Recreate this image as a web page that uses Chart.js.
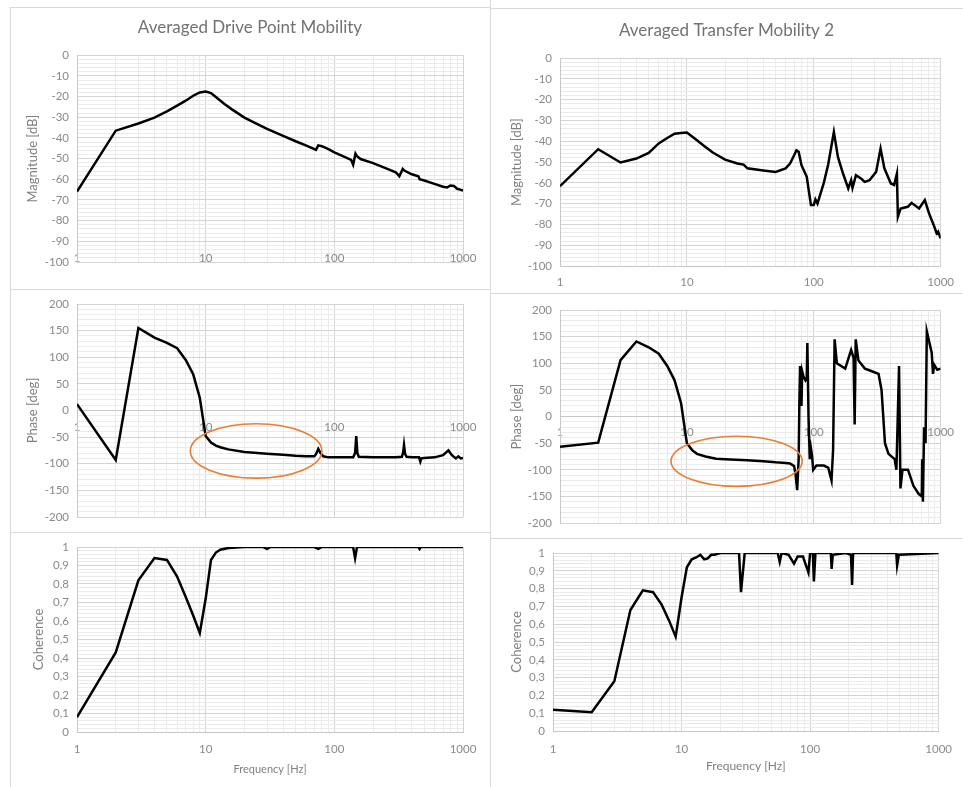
<!DOCTYPE html>
<html>
<head>
<meta charset="utf-8">
<title>Averaged mobility</title>
<script src="https://cdn.jsdelivr.net/npm/chart.js@4.4.1/dist/chart.umd.min.js"></script>
<style>
  body { margin: 0; background: #fff; }
  #page { position: relative; width: 963px; height: 787px; overflow: hidden; background: #fff; }
  .pane { position: absolute; }
  .sep { position: absolute; background: #d9d9d9; }
</style>
</head>
<body>
<div id="page">
  <div class="sep" style="left:10px;top:7px;width:480px;height:1px"></div>
  <div class="sep" style="left:10px;top:7px;width:1px;height:780px"></div>
  <div class="sep" style="left:490px;top:0;width:1px;height:787px"></div>
  <div class="sep" style="left:490px;top:8px;width:473px;height:1px"></div>
  <div class="sep" style="left:10px;top:289px;width:480px;height:1px"></div>
  <div class="sep" style="left:10px;top:532px;width:480px;height:1px"></div>
  <div class="sep" style="left:490px;top:293px;width:473px;height:1px"></div>
  <div class="sep" style="left:490px;top:538px;width:473px;height:1px"></div>

  <canvas class="pane" id="dpMag" width="480" height="282" style="left:10px;top:7px"></canvas>
  <canvas class="pane" id="dpPhase" width="480" height="243" style="left:10px;top:289px"></canvas>
  <canvas class="pane" id="dpCoh" width="480" height="255" style="left:10px;top:532px"></canvas>
  <canvas class="pane" id="tmMag" width="473" height="285" style="left:490px;top:8px"></canvas>
  <canvas class="pane" id="tmPhase" width="473" height="245" style="left:490px;top:293px"></canvas>
  <canvas class="pane" id="tmCoh" width="473" height="249" style="left:490px;top:538px"></canvas>
</div>

<script>
// ---- data (frequency in Hz) ----
// drive point
const dpMagFreq = [1,2,3,4,5,6,7,8,9,10,11,12,14,16,20,25,30,40,50,60,70,72,75,80,90,100,120,135,140,146,150,160,200,250,300,320,340,350,400,450,460,500,600,700,750,800,850,900,950,1000];
const dpMagDb = [-66,-36.5,-33,-30.2,-27.2,-24.4,-22,-19.6,-18,-17.6,-18.3,-20.2,-23.6,-26.2,-30.2,-33.2,-35.6,-39,-41.6,-43.6,-45.4,-45.8,-43.6,-44,-45.4,-47,-49.2,-50.6,-53,-47.6,-48.8,-50.2,-52.2,-54.6,-56.6,-58.5,-55,-55.8,-57.6,-58.6,-60,-60.6,-62.2,-63.6,-64,-63,-63.2,-64.6,-65,-65.5];

const dpPhaseFreq = [1,2,3,4,5,6,7,8,9,10,11,12,13,15,20,30,40,50,60,70,72,75,78,82,90,100,140,145,148,151,155,200,300,335,343,348,355,365,400,455,466,475,500,600,700,770,820,880,920,960,1000];
const dpPhaseDeg = [12,-93,155,137,127,117,95,68,24,-48,-60,-66,-69,-73,-78,-81,-83,-85,-86,-86,-82,-72,-80,-86,-88,-88,-88,-80,-48,-80,-87,-88,-88,-87,-78,-65,-82,-87,-88,-88,-96,-90,-89,-88,-84,-75,-84,-90,-86,-90,-89];

const dpCohFreq = [1,2,3,4,5,6,7,8,9,10,11,12,13,15,20,28,30,32,70,75,80,140,145,150,450,460,470,1000];
const dpCoh = [0.08,0.43,0.82,0.94,0.93,0.84,0.73,0.63,0.535,0.72,0.93,0.97,0.985,0.995,1,1,0.99,1,1,0.99,1,1,0.94,1,1,0.99,1,1];

// transfer 2
const tmMagFreq = [1,2,3,4,5,6,7,8,9,10,12,14,16,20,25,28,30,40,50,60,65,70,73,76,80,88,92,95,100,103,107,111,120,130,144,155,170,187,197,202,215,237,252,275,310,336,360,405,430,452,460,484,550,590,676,750,810,890,930,955,1000];
const tmMagDb = [-61.6,-43.8,-50.2,-48.3,-45.6,-41,-38.4,-36.3,-36,-35.8,-39.5,-42.7,-45.4,-48.8,-50.7,-51.2,-53,-54,-54.7,-53,-50.7,-46.7,-44.3,-45,-51.5,-57,-65,-70.7,-70.7,-68,-70,-66.7,-60,-51,-35.5,-47.5,-55.5,-62.7,-58.7,-62.4,-56.3,-58,-59.5,-58.7,-54.7,-43.5,-53,-60.3,-61,-55.5,-76.3,-72.3,-71.5,-69.6,-72.3,-68.3,-74.7,-81,-84.3,-83.5,-86.7];

const tmPhaseFreq = [1,2,3,4,5,6,7,8,9,10,11,12,14,17,20,30,40,50,60,65,70,72,74,76,77,78,80,81,83,86,88,89,91,93,95,97,99,105,120,130,138,142,146,152,177,197,206,210,214,225,253,287,324,342,364,388,434,448,470,482,500,553,610,670,710,715,725,740,760,778,850,870,890,940,1000];
const tmPhaseDeg = [-56.5,-49,106,141,130,118,95,68,25,-50,-63,-70,-75,-79,-80,-82,-84,-86,-87,-88,-93,-110,-138,-80,25,95,20,85,75,68,72,138,-5,-80,-60,-75,-100,-92,-92,-96,-120,-62,145,100,90,125,110,-15,145,105,90,85,80,50,-50,-70,-80,-100,95,-135,-100,-100,-130,-145,-150,-80,-160,-20,-50,160,120,80,97,88,90];

const tmCohFreq = [1,2,3,4,5,6,7,8,9,10,11,12,13,14,15,16,17,18,20,28,29,31,56,58,60,68,75,80,88,97,100,105,107,110,145,147,150,190,208,212,216,468,475,490,1000];
const tmCoh = [0.12,0.105,0.28,0.68,0.79,0.78,0.71,0.62,0.53,0.75,0.92,0.965,0.975,0.99,0.965,0.97,0.99,0.99,1,1,0.78,1,1,0.95,1,0.99,0.94,0.98,0.98,0.89,1,1,0.84,1,1,0.91,0.99,1,0.99,0.82,1,1,0.93,0.99,1];

// log axis ticks 1..1000 (labels only on decades)
const freqTicks = [1,2,3,4,5,6,7,8,9,10,20,30,40,50,60,70,80,90,100,200,300,400,500,600,700,800,900,1000];
const freqLabels = [1, 10, 100, 1000];

// orange ellipses marking the 10-80 Hz region: [fLow, fHigh, yLow, yHigh]
const dpMark = [7.6, 80, -127, -25];
const tmMark = [7.5, 81, -131, -37];

const FONT = "Lato, 'Open Sans', sans-serif";
const tickCol = "#8a8a8a";
const majorGrid = "#d4d4d4";
const minorGrid = "#ebebeb";

const ellipsePlugin = {
  id: "ellipse",
  afterDatasetsDraw(chart, args, opts) {
    if (!opts.box) return;
    const xs = chart.scales.x, ys = chart.scales.y;
    const l = xs.getPixelForValue(opts.box[0]);
    const r = xs.getPixelForValue(opts.box[1]);
    const b = ys.getPixelForValue(opts.box[2]);
    const t = ys.getPixelForValue(opts.box[3]);
    const ctx = chart.ctx;
    ctx.save();
    ctx.strokeStyle = "#ED7D31";
    ctx.lineWidth = 1.6;
    ctx.beginPath();
    ctx.ellipse((l + r) / 2, (t + b) / 2, (r - l) / 2, (b - t) / 2, 0, 0, Math.PI * 2);
    ctx.stroke();
    ctx.restore();
  },
};

function makeChart(id, p) {
  const yValues = [];
  for (let i = 0; i <= p.ySteps; i++) {
    yValues.push(Math.round((p.yMin + i * p.yMinor) * 1000) / 1000);
  }
  const isMajorY = (v) => Math.round((v - p.yMin) / p.yMinor) % p.every === 0;
  const floating = p.xAt !== undefined;

  const xScale = {
    type: "logarithmic",
    min: 1,
    max: 1000,
    position: floating ? { y: p.xAt } : "bottom",
    afterBuildTicks: (s) => { s.ticks = freqTicks.map((v) => ({ value: v })); },
    ticks: {
      autoSkip: false,
      maxRotation: 0,
      color: tickCol,
      font: { family: FONT, size: 11.5 },
      padding: p.xPad,
      callback: (v) => (freqLabels.includes(v) ? String(v) : ""),
    },
    grid: {
      drawTicks: false,
      color: (c) => (c.tick && freqLabels.includes(c.tick.value) ? majorGrid : minorGrid),
    },
    border: { display: !p.xBorderOff, color: "#c8c8c8" },
    title: p.xTitle
      ? { display: true, text: p.xTitle, color: "#808080", font: { family: FONT, size: p.xTitleSize }, padding: { top: 0, bottom: p.xTitlePad } }
      : { display: false },
  };
  if (!floating) xScale.afterFit = (s) => { s.height = p.xH; };

  return new Chart(document.getElementById(id), {
    type: "line",
    data: {
      datasets: [{
        data: p.freq.map((f, i) => ({ x: f, y: p.vals[i] })),
        borderColor: "#000",
        borderWidth: 2.5,
        pointRadius: 0,
        tension: 0,
        fill: false,
      }],
    },
    options: {
      responsive: false,
      animation: false,
      layout: { padding: { left: 0, right: 0, top: p.padTop || 0, bottom: p.padBottom || 0 } },
      plugins: {
        legend: { display: false },
        tooltip: { enabled: false },
        title: p.title
          ? { display: true, text: p.title, color: "#727272", font: { family: FONT, size: 17, weight: "normal" }, padding: { top: p.titleTop, bottom: p.titleBottom } }
          : { display: false },
        ellipse: { box: p.mark || null },
      },
      scales: {
        x: xScale,
        y: {
          min: p.yMin,
          max: p.yMax,
          afterBuildTicks: (s) => { s.ticks = yValues.map((v) => ({ value: v })); },
          afterFit: (s) => { s.width = p.yW; },
          ticks: {
            autoSkip: false,
            color: tickCol,
            font: { family: FONT, size: 11.5 },
            padding: 8,
            callback: (v) => (isMajorY(v) ? p.fmt(v) : ""),
          },
          grid: {
            drawTicks: false,
            color: (c) => (c.tick && isMajorY(c.tick.value) ? majorGrid : minorGrid),
          },
          border: { color: "#c8c8c8" },
          title: { display: true, text: p.yTitle, color: "#808080", font: { family: FONT, size: 13 }, padding: { top: p.yTitlePad, bottom: 0 } },
        },
        // empty right axis just to keep the right margin (title stays centred on the pane)
        yR: {
          position: "right",
          grid: { display: false },
          ticks: { display: false },
          border: { display: false },
          afterFit: (s) => { s.width = p.right; },
        },
      },
    },
    plugins: [ellipsePlugin],
  });
}

const plainFmt = (v) => String(v);
const commaFmt = (v) => (v === 0 || v === 1 ? String(v) : v.toFixed(1).replace(".", ","));

makeChart("dpMag", {
  freq: dpMagFreq, vals: dpMagDb, title: "Averaged Drive Point Mobility", titleTop: 10.8, titleBottom: 17,
  yMin: -100, yMax: 0, yMinor: 2, ySteps: 50, every: 5, fmt: plainFmt,
  yTitle: "Magnitude [dB]", yTitlePad: 15.2, yW: 67, right: 27, padBottom: 27,
  xAt: -94.7, xBorderOff: true, xPad: 0,
});
makeChart("dpPhase", {
  freq: dpPhaseFreq, vals: dpPhaseDeg, padTop: 15, padBottom: 15, xAt: 0, mark: dpMark,
  yMin: -200, yMax: 200, yMinor: 10, ySteps: 40, every: 5, fmt: plainFmt,
  yTitle: "Phase [deg]", yTitlePad: 15.2, yW: 67, right: 27, xPad: 10,
});
makeChart("dpCoh", {
  freq: dpCohFreq, vals: dpCoh, padTop: 15,
  yMin: 0, yMax: 1, yMinor: 0.02, ySteps: 50, every: 5, fmt: commaFmt,
  yTitle: "Coherence", yTitlePad: 21.2, yW: 67, right: 27, xH: 55, xPad: 10,
  xTitle: "Frequency [Hz]", xTitleSize: 11, xTitlePad: 11.4,
});
makeChart("tmMag", {
  freq: tmMagFreq, vals: tmMagDb, title: "Averaged Transfer Mobility 2", titleTop: 12.8, titleBottom: 17,
  yMin: -100, yMax: 0, yMinor: 2, ySteps: 50, every: 5, fmt: plainFmt,
  yTitle: "Magnitude [dB]", yTitlePad: 19.2, yW: 70, right: 20, xH: 27, xPad: 9,
});
makeChart("tmPhase", {
  freq: tmPhaseFreq, vals: tmPhaseDeg, padTop: 17, padBottom: 12, xAt: 0, mark: tmMark,
  yMin: -200, yMax: 200, yMinor: 10, ySteps: 40, every: 5, fmt: plainFmt,
  yTitle: "Phase [deg]", yTitlePad: 19.2, yW: 70, right: 20, xPad: 9,
});
makeChart("tmCoh", {
  freq: tmCohFreq, vals: tmCoh, padTop: 15,
  yMin: 0, yMax: 1, yMinor: 0.02, ySteps: 50, every: 5, fmt: commaFmt,
  yTitle: "Coherence", yTitlePad: 19.2, yW: 63, right: 20, xH: 56, xPad: 11,
  xTitle: "Frequency [Hz]", xTitleSize: 12, xTitlePad: 14,
});
</script>
</body>
</html>
